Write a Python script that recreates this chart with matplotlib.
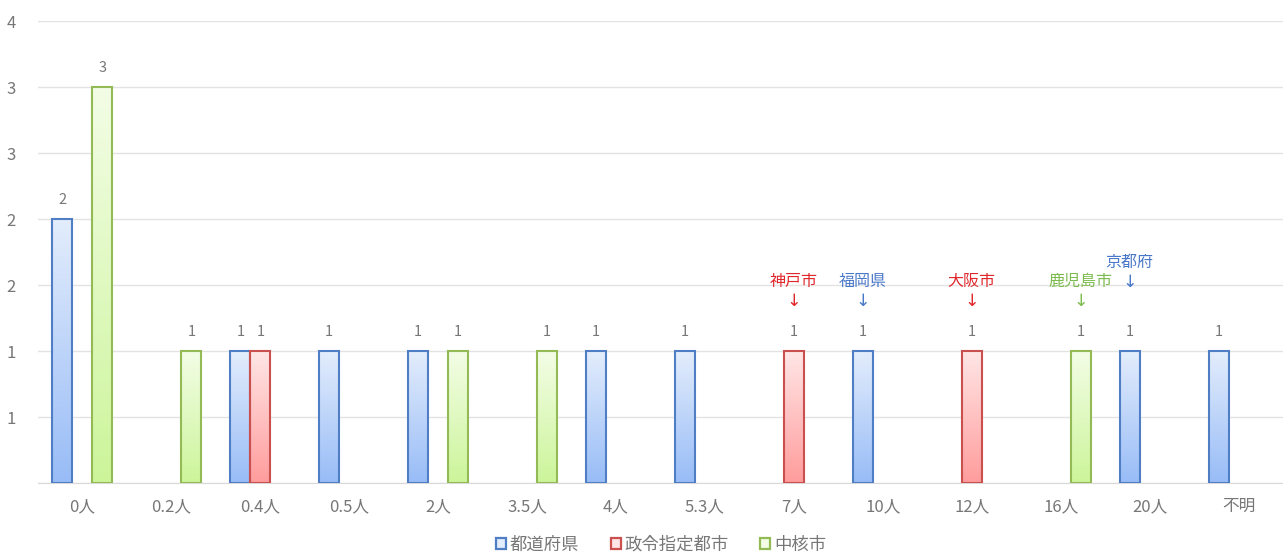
import numpy as np
import matplotlib.pyplot as plt
from matplotlib.colors import to_rgb
from matplotlib.patches import Rectangle

plt.rcParams['font.family'] = ['Noto Sans CJK JP', 'DejaVu Sans']

categories = ['0人', '0.2人', '0.4人', '0.5人', '2人', '3.5人', '4人', '5.3人',
              '7人', '10人', '12人', '16人', '20人', '不明']
series_names = ['都道府県', '政令指定都市', '中核市']
todofuken = [2, 0, 1, 1, 1, 0, 1, 1, 0, 1, 0, 0, 1, 1]
seirei = [0, 0, 1, 0, 0, 0, 0, 0, 1, 0, 1, 0, 0, 0]
chukaku = [3, 1, 0, 0, 1, 1, 0, 0, 0, 0, 0, 1, 0, 0]

# callouts: (name, category index, series index, label height)
callouts = [('神戸市', 8, 1, 1.53), ('福岡県', 9, 0, 1.53), ('大阪市', 10, 1, 1.53),
            ('鹿児島市', 11, 2, 1.53), ('京都府', 12, 0, 1.67)]

edge_colors = ['#4F7EC4', '#C9504E', '#93BA55']
top_colors = ['#E3EDFC', '#FFE6E6', '#F3FDE6']
bottom_colors = ['#98BCF7', '#FF9C9C', '#CCF59A']
text_colors = ['#4A78C8', '#E0282C', '#7CBB4E']
gray = '#777777'

fig = plt.figure(figsize=(12.83, 5.55), dpi=100)
ax = fig.add_axes([38 / 1283, 72 / 555, 1245 / 1283, 462 / 555])

x = np.arange(len(categories))
w = 0.225
offsets = [-w, 0, w]
data = [todofuken, seirei, chukaku]

for s, vals in enumerate(data):
    vals = np.array(vals)
    keep = vals > 0
    grad = np.linspace(to_rgb(top_colors[s]), to_rgb(bottom_colors[s]), 256).reshape(256, 1, 3)
    bars = ax.bar(x[keep] + offsets[s], vals[keep], w, facecolor='none',
                  edgecolor=edge_colors[s], linewidth=1.5, zorder=3)
    for b, v in zip(bars, vals[keep]):
        im = ax.imshow(grad, extent=(b.get_x(), b.get_x() + b.get_width(), 0, b.get_height()),
                       aspect='auto', origin='upper', zorder=2)
        im.set_clip_path(b)
        ax.annotate(str(v), (b.get_x() + b.get_width() / 2, v), xytext=(0, 9),
                    textcoords='offset points', ha='center', va='bottom',
                    fontsize=10.5, color=gray)

for name, ci, si, h in callouts:
    cx = x[ci] + offsets[si]
    ax.text(cx, h, name, ha='center', va='center', fontsize=11.5, color=text_colors[si])
    ax.annotate('↓', (cx, h), xytext=(0, -14), textcoords='offset points',
                ha='center', va='center', fontsize=12.5, color=text_colors[si],
                family=['DejaVu Sans'])

ax.set_xlim(-0.5, len(categories) - 0.5)
ax.set_ylim(0, 3.5)
ax.set_yticks(np.arange(0, 3.51, 0.5))
ax.set_yticklabels(['' if t == 0 else str(int(np.floor(t + 0.5))) for t in np.arange(0, 3.51, 0.5)])
ax.set_xticks(x)
ax.set_xticklabels(categories)
ax.tick_params(length=0, labelsize=12, labelcolor=gray)
ax.tick_params(axis='x', pad=11)
ax.tick_params(axis='y', pad=16)
ax.grid(axis='y', color='#E3E3E3', linewidth=1)
ax.set_axisbelow(True)
for sp in ['top', 'right', 'left']:
    ax.spines[sp].set_visible(False)
ax.spines['bottom'].set_color('#D9D9D9')

handles = [Rectangle((0, 0), 1, 1, facecolor=top_colors[i], edgecolor=edge_colors[i], linewidth=1.6)
           for i in range(3)]
fig.legend(handles, series_names, loc='center', bbox_to_anchor=(661 / 1283, 1 - 545 / 555),
           ncol=3, frameon=False, fontsize=12.5, handlelength=0.6, handleheight=0.6,
           handletextpad=0.2, columnspacing=1.8, labelcolor=gray)

fig.savefig('out.png', dpi=100)
